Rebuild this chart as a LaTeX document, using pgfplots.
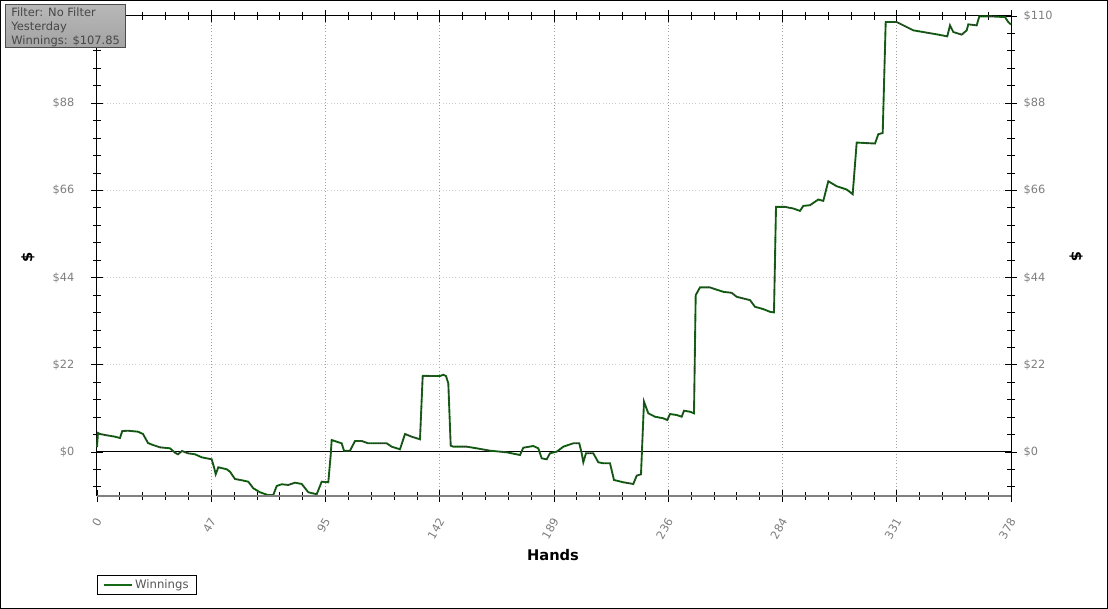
\documentclass[border=0pt]{standalone}
\usepackage{fontspec}
\setmainfont{DejaVu Sans}
\usepackage{pgfplots}
\usepackage{pgfplotstable}
\pgfplotsset{compat=1.18}
\definecolor{wgreen}{RGB}{22,105,22}
\definecolor{tickgray}{RGB}{125,125,125}
\definecolor{legtext}{RGB}{85,85,85}
\pgfplotstableread{
x y
0 1.26
0.4 4.79
1.24 4.54
3.31 4.29
7.44 3.86
9.51 3.53
10.46 5.29
12.82 5.37
16.96 5.12
19.02 4.54
21.09 2.27
23.16 1.76
26.05 1.18
30.19 0.93
32.26 -0.18
33.5 -0.58
35.15 0.25
37.63 -0.33
40.53 -0.58
43.3 -1.34
47.44 -1.84
48.51 -4.11
49.09 -5.62
50.17 -3.86
53.64 -4.36
55.0 -4.97
57.07 -6.81
59.84 -7.13
62.57 -7.49
64.64 -9.15
67.41 -10.16
70.84 -10.9
72.91 -10.84
74.32 -8.57
76.39 -8.14
79.12 -8.32
81.89 -7.74
84.66 -8.07
87.39 -10.16
90.86 -10.66
92.93 -7.49
95.66 -7.64
96.65 -0.76
97.06 3.02
99.13 2.60
101.2 2.19
102.15 0.33
104.63 0.33
106.7 2.77
109.47 2.77
112.2 2.19
119.81 2.19
121.88 1.34
125.31 0.68
127.38 4.54
130.15 3.86
133.58 3.20
134.7 19.23
139.08 19.16
141.85 19.16
143.22 19.49
144.33 19.16
145.29 17.32
146.28 1.59
147.35 1.34
152.89 1.34
157.03 0.93
162.53 0.33
169.44 -0.08
174.94 -0.76
176.3 1.08
180.44 1.51
182.51 0.93
183.91 -1.59
185.98 -1.84
187.34 -0.33
190.12 0.08
192.85 1.34
196.98 2.19
199.46 2.19
200.46 -0.33
201.12 -2.60
202.23 -0.33
205.25 -0.33
207.32 -2.60
209.39 -2.85
212.16 -2.85
213.81 -7.06
217.66 -7.64
221.8 -8.07
223.2 -5.97
224.98 -5.62
226.22 12.68
228.0 9.76
230.77 8.90
234.2 8.50
235.86 8.07
236.97 9.58
239.74 9.33
241.81 8.90
242.76 10.41
245.24 10.16
246.9 9.76
247.6 39.58
249.38 41.52
253.52 41.52
255.58 41.09
259.02 40.41
262.49 40.16
264.56 39.15
267.29 38.74
270.06 38.32
272.13 36.63
275.56 36.05
278.33 35.37
279.98 35.22
280.81 61.84
284.53 61.84
287.97 61.43
290.74 60.83
292.1 62.09
294.87 62.26
298.3 63.70
300.37 63.35
302.44 68.31
305.91 67.05
310.05 66.22
312.53 65.04
314.18 78.07
321.75 77.82
323.12 80.16
324.94 80.49
326.18 108.47
330.73 108.47
333.46 107.64
337.59 106.38
343.13 105.80
347.27 105.37
351.65 104.86
352.77 107.64
354.14 105.95
357.61 105.29
359.68 106.38
360.34 107.89
363.81 107.64
364.89 109.91
369.31 109.91
375.52 109.73
376.88 108.47
378 107.85
}\winnings
\begin{document}
\begin{tikzpicture}
\useasboundingbox (0,0) rectangle (831pt,456.75pt);
\draw[line width=0.75pt] (0.375pt,0.375pt) rectangle (830.625pt,456.375pt);
\pgfplotsset{
  commonaxis/.style={
    at={(72.75pt,84.75pt)}, anchor=south west, scale only axis,
    width=685.5pt, height=360pt,
    xmin=0, xmax=378, ymin=-11.1, ymax=110,
    ytick={0,22,44,66,88,110},
    yticklabels={\$0,\$22,\$44,\$66,\$88,\$110},
    ticklabel style={font=\fontsize{8.5}{10}\selectfont, text=tickgray},
  }
}
\begin{axis}[
  commonaxis,
  xtick={0,47.25,94.5,141.75,189,236.25,283.5,330.75,378},
  xticklabels={0,47,95,142,189,236,284,331,378},
  minor x tick num=4,
  minor ytick={-8.8,-4.4,4.4,8.8,13.2,17.6,26.4,30.8,35.2,39.6,48.4,52.8,57.2,61.6,70.4,74.8,79.2,83.6,92.4,96.8,101.2,105.6},
  tick align=center, major tick length=9pt, minor tick length=6pt,
  tick style={black, line width=0.6pt},
  ytick pos=both, xtick pos=both, yticklabel pos=left, xticklabel pos=bottom,
  xmajorgrids, ymajorgrids,
  x grid style={dotted, gray!75, line width=0.75pt},
  y grid style={dotted, gray!40, line width=0.75pt},
  axis line style={black, line width=0.75pt},
  yticklabel style={xshift=-9pt},
  xticklabel style={xshift=3pt, yshift=-10pt, rotate=60, anchor=east},
  xlabel={Hands},
  xlabel style={font=\bfseries\fontsize{11}{13}\selectfont, at={(axis description cs:0.4989,-0.1229)}, anchor=center},
  ylabel={\$},
  ylabel style={font=\bfseries\fontsize{11}{13}\selectfont, at={(axis description cs:-0.0755,0.498)}, anchor=center},
  legend style={at={(0,-0.1646)}, anchor=north west, draw=black, font=\fontsize{8.75}{10}\selectfont, text=legtext, inner xsep=4pt, inner ysep=1pt},
  legend cell align=left,
  legend image code/.code={\draw[#1] (0pt,0pt) -- (21pt,0pt);},
  clip=false,
]
\addplot[black, line width=0.75pt, forget plot] coordinates {(0,0) (378,0)};
\addplot[wgreen, line width=1.4pt] table[x=x, y=y] {\winnings};
\addlegendentry{Winnings}
\addplot[black!85, dash pattern=on 0.7pt off 1pt, line width=0.7pt, forget plot] table[x=x, y=y] {\winnings};
\draw[gray, line width=2pt] (rel axis cs:0,0) -- (rel axis cs:1,0);
\end{axis}
\begin{axis}[
  commonaxis,
  hide x axis, axis y line*=right,
  axis line style={draw=none},
  major tick length=0pt,
  yticklabel style={xshift=6pt},
  ylabel={\$},
  ylabel style={font=\bfseries\fontsize{11}{13}\selectfont, at={(axis description cs:1.0711,0.498)}, anchor=center, rotate=180},
]
\end{axis}
\shade[top color=black!28, middle color=black!18, bottom color=black!36] (3.75pt,453pt) rectangle (93.75pt,420.75pt);
\draw[black!70, line width=0.75pt] (3.75pt,453pt) rectangle (93.75pt,420.75pt);
\node[anchor=north west, align=left, inner sep=0pt, font=\fontsize{8.6}{10.5}\selectfont, text=black!72] at (8.25pt,451pt) {Filter: No Filter\\Yesterday\\Winnings: \$107.85};
\end{tikzpicture}
\end{document}
